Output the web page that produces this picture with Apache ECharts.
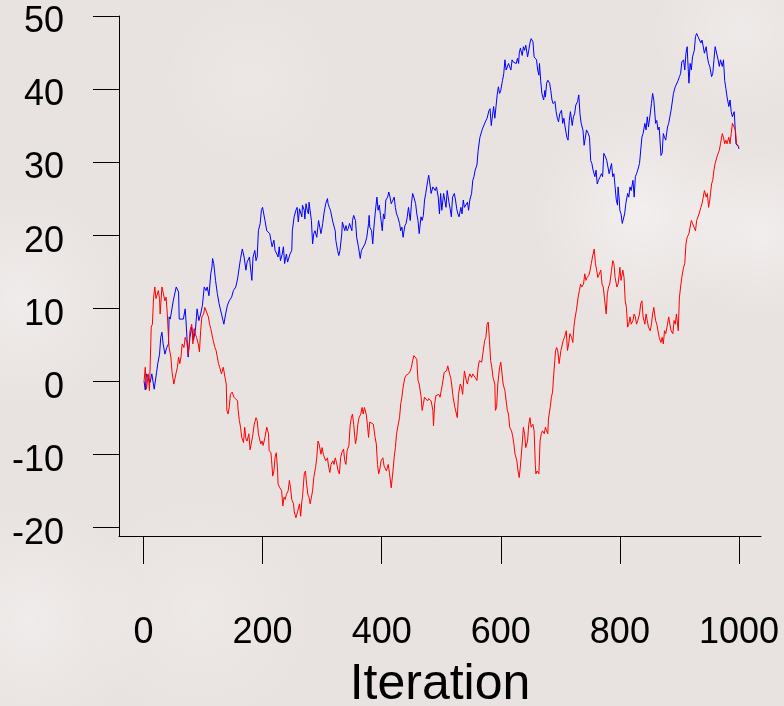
<!DOCTYPE html>
<html>
<head>
<meta charset="utf-8">
<script src="https://cdn.jsdelivr.net/npm/echarts@6/dist/echarts.min.js"></script>
<style>html,body{margin:0;padding:0;background:#e9e4e2;}#c{width:784px;height:706px;}</style>
</head>
<body>
<div id="c"></div>
<script>
const xTicks = [0, 200, 400, 600, 800, 1000];
const yTicks = [-20, -10, 0, 10, 20, 30, 40, 50];
const xTitle = 'Iteration';

const blueWalk = [[1,0],[3,-1.2],[5,1.0],[8,0.5],[11,-0.2],[14,1.0],[18,-1.1],[21,-1.1],[22,1.2],[24,2.4],[27,3.7],[29,6.0],[31,6.7],[33,5.1],[36,3.7],[39,4.6],[42,5.1],[43,8.8],[45,8.5],[50,11.0],[55,12.9],[59,12.2],[60,8.5],[67,8.5],[70,9.9],[71,8.8],[74,4.6],[75,3.3],[78,6.0],[81,7.4],[84,5.6],[87,6.9],[89,8.8],[90,9.9],[93,8.3],[96,9.2],[99,10.4],[102,12.9],[105,12.4],[107,12.9],[110,11.7],[113,14.7],[115,15.6],[116,16.8],[118,16.1],[121,13.8],[124,12.0],[127,10.6],[131,9.2],[135,7.8],[138,9.2],[141,10.4],[144,11.0],[148,11.5],[151,12.4],[155,12.9],[158,14.0],[161,14.0],[163,16.8],[166,18.1],[169,17.0],[172,15.2],[174,16.3],[178,17.0],
[179,16.1],[182,13.8],[184,17.0],[187,17.9],[189,16.5],[191,17.0],[193,20.6],[196,21.6],[198,23.4],[200,23.8],[202,22.9],[204,22.0],[207,20.6],[210,20.6],[212,20.2],[214,19.3],[216,18.4],[219,19.3],[221,17.9],[224,17.4],[226,17.0],[228,18.4],[230,16.5],[233,17.4],[235,18.4],[237,16.1],[239,17.0],[240,17.4],[242,16.3],[244,16.1],[246,17.4],[249,17.9],[250,20.6],[252,20.6],[253,22.5],[256,23.4],[258,23.8],[260,21.8],[262,23.6],[264,23.8],[266,22.5],[267,24.1],[270,23.4],[271,22.2],[273,24.3],[275,23.4],[277,22.9],[278,24.5],[281,24.3],[282,22.0],[284,18.8],[286,20.2],[288,20.6],[291,19.7],[294,22.0],[295,21.6],[298,20.2],[299,20.6],[301,21.6],[303,22.9],[305,22.9],[306,24.3],[309,25.0],[310,24.3],[312,23.8],[314,23.4],[316,23.2],[318,21.8],[320,21.6],[322,20.6],[323,19.3],[326,17.9],[328,17.2],[330,17.9],[333,20.2],[334,21.8],[337,22.0],[338,20.6],[340,21.3],[342,20.6],[344,20.9],[346,21.6],[348,21.8],[350,20.6],[351,22.0],[353,22.7],[356,22.0],[358,19.7],[361,18.4],[364,16.8],[366,17.9],[369,17.9],[372,18.8],[375,19.7],[378,21.6],[379,22.7],
[380,21.1],[383,20.6],[385,18.8],[387,21.1],[389,22.9],[392,25.2],[394,23.4],[396,24.1],[398,22.7],[401,20.6],[403,22.9],[405,22.2],[407,24.8],[410,25.2],[412,25.9],[414,25.2],[416,24.3],[419,24.8],[421,25.2],[423,23.8],[425,22.9],[427,22.5],[430,21.6],[432,20.6],[434,21.1],[436,19.7],[439,21.3],[441,21.6],[443,22.5],[445,23.8],[448,22.0],[450,24.3],[452,25.7],[454,25.2],[457,24.3],[459,22.9],[461,22.0],[463,20.2],[466,22.5],[468,22.0],[470,22.7],[472,24.8],[474,25.7],[477,27.3],[479,28.2],[481,27.0],[483,25.7],[486,26.6],[488,26.8],[490,26.1],[492,26.6],[495,25.2],[497,22.9],[499,25.7],[501,23.4],[504,25.7],[506,24.8],[508,23.8],[510,26.1],[513,24.5],[515,23.6],[517,22.5],[519,25.2],[522,25.7],[524,24.8],[526,23.6],[528,22.9],[530,22.5],[533,23.8],[535,22.9],[537,24.8],[539,23.8],[542,23.6],[544,24.5],[546,23.4],[548,24.8],[551,25.7],[553,27.5],[555,28.0],[557,28.9],[560,29.6],[562,31.6],
[565,33.4],[569,34.5],[574,35.5],[577,36.0],[580,37.0],
[582,37.3],[584,35.0],[586,34.8],[588,37.6],[590,36.0],[592,37.6],[594,39.2],[596,40.3],[598,39.4],[600,39.8],[602,40.8],[603,41.2],[605,42.1],[607,44.0],[609,42.6],[611,42.4],[613,43.5],[614,43.7],[617,42.6],[619,44.0],[621,43.7],[623,43.7],[626,43.5],[628,44.2],[630,43.5],[631,44.9],[633,45.6],[636,44.6],[638,45.8],[640,45.3],[642,46.0],[645,44.4],[647,45.3],[649,46.3],[651,46.9],[654,46.5],[656,44.4],[658,44.6],[660,44.0],[662,42.6],[664,41.9],[665,43.5],[667,41.2],[669,39.4],[672,38.5],[674,39.8],[675,38.9],[677,40.8],[679,41.2],[682,40.8],[684,39.8],[686,38.5],[688,38.0],[691,38.3],[693,36.9],[695,36.0],[697,35.5],[699,36.6],[702,37.1],[704,35.3],[706,36.0],[708,34.8],[711,33.4],[713,33.0],[715,35.7],[717,36.9],[720,35.0],[722,36.2],[724,36.6],[726,37.8],[729,38.3],[731,39.2],[733,36.6],[735,35.3],[738,34.4],[740,32.3],[742,32.5],[744,34.4],[747,33.9],[749,33.4],[751,30.2],[753,29.8],[755,28.9],[758,28.0],[760,28.9],[762,27.0],[764,27.5],[767,28.0],[769,28.4],[771,28.0],[773,31.2],[776,30.7],[778,30.2],[780,30.2],[782,28.4],
[786,29.8],[788,28.0],[790,28.4],[792,26.6],[794,24.8],[796,24.1],[797,26.6],[799,24.8],[800,23.4],[802,22.9],[804,21.6],[806,21.6],[808,22.9],[810,24.3],[813,25.7],[815,25.2],[817,26.6],[819,26.1],[822,27.5],[824,25.2],[826,28.0],[828,28.4],[830,28.9],[833,29.8],[835,29.8],[837,33.4],[839,33.9],[842,35.3],[844,34.4],[846,36.2],[848,34.8],[851,36.6],[853,38.0],[855,39.4],[857,38.5],[860,35.3],[862,35.7],[864,34.4],[866,34.8],[869,30.9],[871,31.2],[873,33.9],[875,33.4],[877,33.0],[880,34.8],[882,35.3],[884,36.2],[886,37.1],[889,37.3],[890,39.4],[893,40.3],[895,40.5],[898,41.2],[900,41.7],[902,42.1],[904,43.7],[907,44.0],[909,42.6],[911,44.9],[913,45.8],[914,44.0],[916,40.8],[918,43.5],[920,42.6],[922,44.4],[925,45.3],[927,47.2],[929,47.6],[931,47.2],[933,47.2],[936,46.3],[938,46.7],[940,46.7],[942,44.9],[945,45.8],[947,44.4],[949,43.5],[951,43.1],[954,41.7],[956,42.1],[958,44.0],[960,45.8],[963,46.0],[965,44.0],[967,43.1],[969,44.0],[972,43.1],[974,44.0],[976,41.2],[978,40.1],[980,38.9],[983,37.6],[985,38.5],[987,36.9],[989,36.2],[992,36.9],[993,35.5],[995,32.5],[997,32.3],[999,32.1],[1000,31.8]];

const redWalk = [[1,0],[3,1.9],[5,-1.1],[8,1.0],[10,-1.3],[11,1.4],[13,7.4],[15,7.8],[17,11.5],[19,12.9],[21,11.3],[23,11.5],[25,12.4],[27,11.3],[28,9.2],[31,12.9],[33,12.9],[36,11.0],[38,11.5],[40,9.2],[42,6.0],[43,4.6],[46,3.3],[48,1.2],[50,1.0],[51,-0.4],[53,-0.2],[55,1.2],[57,1.9],[59,3.3],[61,2.4],[63,3.3],[65,5.1],[68,4.6],[70,6.0],[73,5.3],[75,3.7],[77,5.3],[78,6.9],[81,7.8],[83,5.1],[85,7.2],[87,6.5],[89,6.0],[92,5.1],[94,4.0],[96,6.9],[98,8.8],[101,9.2],[103,10.1],[106,10.1],[109,8.8],[111,7.8],[113,7.2],[115,7.4],[117,5.6],[120,4.6],[122,4.2],[124,4.2],[126,2.4],[128,1.9],[131,1.0],[134,1.9],[137,0.5],[139,-0.4],[140,-4.0],[142,-4.5],[144,-3.6],[146,-1.8],[149,-1.5],[152,-2.2],[155,-2.0],[158,-2.7],[159,-4.0],[161,-5.4],[163,-6.3],[165,-7.7],[168,-8.4],[170,-6.3],[172,-7.9],[174,-8.2],[177,-7.2],[179,-9.4],
[182,-9.5],[183,-7.7],[186,-5.9],[189,-5.0],[191,-5.4],[193,-7.2],[195,-7.0],[197,-8.6],[199,-8.2],[201,-8.8],[204,-7.7],[207,-6.3],[210,-7.2],[211,-9.5],[214,-9.8],[215,-10.7],[217,-13.0],[219,-12.3],[221,-10.4],[223,-9.8],[225,-11.8],[226,-14.1],[229,-14.6],[232,-15.0],[234,-17.1],[236,-15.9],[238,-16.2],[240,-15.5],[243,-15.0],[245,-13.6],[247,-14.6],[249,-16.2],[252,-16.8],[253,-17.8],[256,-18.7],[257,-18.7],[259,-17.8],[262,-16.8],[264,-18.5],[266,-16.4],[267,-15.9],[270,-12.7],[272,-12.3],[274,-14.1],[276,-15.5],[278,-15.9],[280,-16.8],[282,-15.9],[284,-15.0],[286,-13.2],[289,-11.8],[291,-10.5],[293,-8.2],[295,-8.6],[298,-10.0],[300,-9.1],[302,-10.0],[304,-10.5],[306,-10.9],[309,-10.5],[311,-11.8],[313,-12.5],[315,-11.4],[318,-10.9],[320,-11.4],[322,-10.5],[324,-11.1],[327,-12.3],[329,-12.7],[331,-10.5],[333,-9.8],[336,-9.3],[338,-10.9],[340,-11.4],[342,-9.5],[345,-8.8],[347,-6.1],[349,-5.0],[351,-4.5],[353,-5.9],[356,-8.6],[358,-7.7],[360,-5.9],[362,-5.0],[365,-4.5],[367,-3.6],[369,-4.5],[371,-3.6],[374,-4.5],[376,-5.9],[378,-7.7],
[380,-5.6],[383,-5.4],[386,-5.9],[389,-7.7],[391,-8.6],[393,-11.4],[395,-12.7],[397,-12.0],[399,-10.9],[402,-10.5],[404,-11.6],[406,-11.8],[408,-12.3],[411,-11.4],[413,-12.5],[415,-12.7],[416,-14.6],[419,-12.3],[421,-10.4],[423,-9.1],[425,-7.2],[427,-6.3],[430,-5.0],[432,-3.1],[434,-2.2],[436,-0.8],[439,0.5],[441,0.8],[443,0.8],[445,1.0],[448,1.4],[450,1.9],[452,2.8],[454,3.5],[457,3.7],[459,3.0],[461,0.1],[463,-0.4],[466,-2.0],[468,-4.0],[470,-3.1],[472,-2.2],[474,-2.4],[477,-2.7],[479,-2.4],[481,-2.2],[483,-2.7],[486,-4.0],[487,-6.1],[489,-3.1],[491,-2.0],[494,-2.2],[496,-1.8],[498,-2.2],[500,-1.3],[502,-0.4],[505,1.2],[507,1.0],[509,1.4],[511,2.1],[514,1.0],[516,0.5],[518,-0.8],[520,-2.2],[523,-3.6],[525,-3.4],[527,-5.0],[529,-1.8],[532,-0.4],[534,-0.8],[536,-1.8],[538,0.5],[539,1.4],[542,0.1],[544,-0.4],[546,0.5],[548,1.0],[551,0.5],[553,1.0],[555,1.2],[557,0.5],[560,0.1],[562,1.9],[564,2.8],[566,3.0],[568,2.6],[571,2.8],[573,5.6],[575,6.0],[577,7.8],[579,8.1],[581,5.6],[583,2.8],[585,1.9],[587,0.5],[590,-0.4],[591,-4.0],[593,-3.6],[595,-0.4],[598,1.9],
[600,2.6],[603,2.4],[604,-0.4],[607,-1.3],[609,-2.7],[611,-4.0],[613,-4.5],[615,-6.3],[618,-6.8],[620,-7.5],[622,-8.6],[624,-10.0],[627,-10.9],[629,-12.3],[631,-13.2],[633,-11.6],[636,-8.6],[638,-6.3],[640,-7.2],[642,-9.1],[645,-8.2],[647,-5.9],[649,-5.0],[651,-6.3],[654,-5.9],[656,-6.8],[658,-11.4],[659,-12.7],[661,-12.3],[664,-12.7],[666,-8.2],[668,-7.2],[670,-6.8],[673,-7.2],[675,-6.3],[677,-6.8],[679,-7.2],[680,-5.2],[683,-3.6],[685,-2.2],[687,-1.5],[689,1.0],[692,4.2],[694,4.6],[696,4.0],[698,2.4],[701,4.2],[703,4.2],[705,5.6],[707,6.0],[710,6.9],[712,4.2],[714,5.1],[716,6.5],[719,6.0],[721,5.3],[723,7.6],[725,8.8],[727,9.7],[730,11.5],[732,12.4],[734,13.3],[736,12.9],[739,13.3],[741,14.7],[743,13.8],[745,14.2],[748,14.5],[750,15.2],[752,16.1],[754,17.0],[757,18.1],[759,16.1],[761,15.2],[763,14.2],[766,14.2],[768,15.2],[770,13.3],[772,12.9],[774,11.5],[777,9.2],[779,12.0],[781,12.9],[783,13.3],[786,15.2],[788,16.5],[790,16.1],[792,14.2],[795,12.9],[797,13.3],[799,14.7],
[800,15.6],[802,13.8],[805,15.2],[807,14.2],[809,11.0],[811,10.1],[813,7.4],[815,7.8],[817,8.8],[819,7.8],[822,8.3],[824,9.2],[826,8.8],[828,7.8],[830,8.3],[833,9.2],[835,10.6],[837,11.0],[839,8.8],[842,7.8],[844,9.2],[846,8.3],[848,7.4],[851,6.9],[853,7.8],[855,9.2],[857,10.1],[860,8.3],[862,7.8],[864,6.9],[866,6.0],[869,5.3],[871,6.0],[873,5.1],[875,6.9],[877,6.5],[880,7.8],[882,8.8],[884,7.8],[886,6.9],[889,6.5],[891,8.3],[893,7.8],[895,9.2],[898,6.9],[899,6.9],[900,11.5],[902,12.9],[904,14.2],[907,15.6],[909,16.1],[911,18.8],[913,19.7],[916,20.2],[918,21.1],[920,22.0],[922,21.6],[925,21.6],[927,20.6],[929,22.0],[931,22.0],[933,22.9],[936,23.8],[938,24.3],[940,25.2],[942,26.1],[945,25.2],[947,25.7],[949,23.8],[951,24.8],[954,27.0],[956,27.5],[958,28.9],[960,29.8],[963,30.7],[965,31.2],[967,31.6],[969,32.5],[972,33.9],[974,33.4],[976,32.5],[978,33.0],[980,32.5],[983,33.4],[985,32.5],[987,33.9],[989,35.3],[992,35.3],[994,34.4],[996,32.5],[998,32.3],[1000,32.1]];

const FONT = '"Liberation Sans", Arial, sans-serif';
const chart = echarts.init(document.getElementById('c'), null, {renderer: 'canvas'});

function soft(cx, cy, r, a) {
  return {
    type: 'circle', z: -100, silent: true,
    shape: {cx: cx, cy: cy, r: r},
    style: {fill: new echarts.graphic.RadialGradient(0.5, 0.5, 0.5, [
      {offset: 0, color: 'rgba(255,255,255,' + a + ')'},
      {offset: 1, color: 'rgba(255,255,255,0)'}
    ])}
  };
}

chart.setOption({
  animation: false,
  backgroundColor: '#e8e2e0',
  graphic: [
    soft(20, 300, 110, 0.35),
    soft(30, 620, 120, 0.35),
    soft(640, 215, 110, 0.45),
    soft(760, 230, 90, 0.4),
    soft(740, 30, 90, 0.3),
    soft(250, 80, 90, 0.2),
    soft(200, 610, 120, 0.25)
  ],
  grid: {left: 119, right: 23, top: 16, bottom: 170, containLabel: false, outerBoundsMode: 'none'},
  xAxis: {
    type: 'value', min: -41.1, max: 1037,
    axisLine: {show: true, onZero: false, lineStyle: {color: '#000', width: 1}},
    axisTick: {show: true, customValues: xTicks, length: 28, lineStyle: {color: '#000', width: 1}},
    axisLabel: {customValues: xTicks, fontSize: 36, fontFamily: FONT, color: '#000', margin: 79,
      formatter: function (v) { return String(v); }},
    splitLine: {show: false},
    name: xTitle, nameLocation: 'middle', nameGap: 124,
    nameTextStyle: {fontSize: 50, fontFamily: FONT, color: '#000'}
  },
  yAxis: {
    type: 'value', min: -21.2, max: 50,
    axisLine: {show: true, onZero: false, lineStyle: {color: '#000', width: 1}},
    axisTick: {show: true, customValues: yTicks, length: 26, lineStyle: {color: '#000', width: 1}},
    axisLabel: {customValues: yTicks, color: '#000', margin: 55,
      formatter: function (v) { return '{t|' + v + '}'; },
      rich: {t: {fontSize: 36, fontFamily: FONT, color: '#000', padding: [13, 0, 0, 0]}}},
    splitLine: {show: false}
  },
  series: [
    {type: 'line', data: blueWalk, symbol: 'none', lineStyle: {color: '#0000ff', width: 1}, itemStyle: {color: '#0000ff'}},
    {type: 'line', data: redWalk, symbol: 'none', lineStyle: {color: '#ff0000', width: 1}, itemStyle: {color: '#ff0000'}}
  ]
});
</script>
</body>
</html>
